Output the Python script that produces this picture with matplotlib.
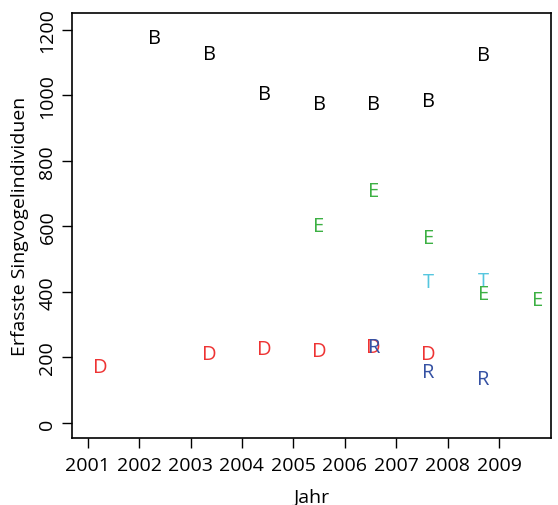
import matplotlib.pyplot as plt

# Erfasste Singvögel je Jahr und Gebiet (Buchstabe = Gebiet)
years = [2001, 2002, 2003, 2004, 2005, 2006, 2007, 2008, 2009]

b_years = [2002, 2003, 2004, 2005, 2006, 2007, 2008]
b_vals = [1179, 1131, 1009, 979, 979, 987, 1127]

d_years = [2001, 2003, 2004, 2005, 2006, 2007]
d_vals = [174, 214, 229, 223, 235, 214]

e_years = [2005, 2006, 2007, 2008, 2009]
e_vals = [605, 711, 569, 397, 379]

r_years = [2006, 2007, 2008]
r_vals = [237, 158, 137]

t_years = [2007, 2008]
t_vals = [434, 437]

series = [
    ('B', b_years, b_vals, 'black'),
    ('D', d_years, d_vals, '#ee3333'),
    ('R', r_years, r_vals, '#3551a3'),
    ('T', t_years, t_vals, '#55c6df'),
    ('E', e_years, e_vals, '#3cb043'),
]

plt.rcParams['font.family'] = ['Open Sans', 'DejaVu Sans']
fs = 14

fig = plt.figure(figsize=(5.58, 5.06), dpi=100)
ax = fig.add_axes([0.1285, 0.1324, 0.859, 0.84])
ax.set_xlim(2000.69, 2010.01)
ax.set_ylim(-46, 1252)

# letters sit on their own x scale, overlaid on the year axis
ax2 = fig.add_axes(ax.get_position(), frameon=False)
ax2.set_xlim(2000.48, 2009.24)
ax2.set_ylim(ax.get_ylim())
ax2.set_xticks([])
ax2.set_yticks([])

for letter, xs, ys, col in series:
    for x, y in zip(xs, ys):
        ax2.text(x, y + 4, letter, color=col, fontsize=14.5,
                 ha='center', va='center_baseline')

ax.set_xticks(years)
ax.set_xticklabels([str(y) for y in years])
ax.set_yticks([0, 200, 400, 600, 800, 1000, 1200])
ax.tick_params(direction='out', length=7, width=1, labelsize=fs)
ax.tick_params(axis='x', pad=6)
ax.tick_params(axis='y', pad=4)
for lab in ax.get_yticklabels():
    lab.set_rotation(90)
    lab.set_va('center')
for sp in ax.spines.values():
    sp.set_linewidth(1.2)

ax.set_xlabel('Jahr', fontsize=fs, labelpad=10)
ax.set_ylabel('Erfasste Singvogelindividuen', fontsize=fs, labelpad=7)

fig.savefig('out.png', dpi=100)
